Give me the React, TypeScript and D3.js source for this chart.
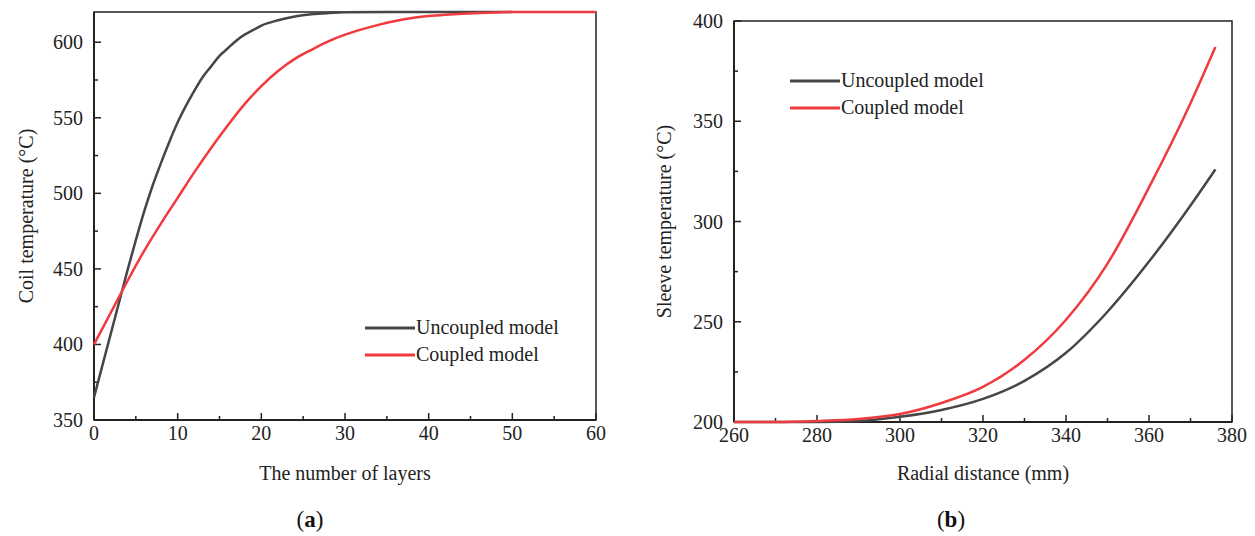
import React from "react";
import * as d3 from "d3";

// (a) coil temperature vs number of layers
const layerUncoupled = [0, 1, 2, 3, 4, 5, 6, 7, 8, 9, 10, 11, 12, 13, 14, 15, 16, 17, 18, 19, 20, 22, 24, 26, 28, 30, 35, 40, 45, 50];
const coilUncoupled = [365, 386, 407, 428, 449, 469, 488, 505, 520, 534, 547, 558, 568, 577, 584, 591, 596, 601, 605, 608, 611, 614.5, 617, 618.5, 619.3, 619.8, 620, 620, 620, 620];
const layerCoupled = [0, 2, 4, 6, 8, 10, 12, 14, 16, 18, 20, 22, 24, 26, 28, 30, 32, 34, 36, 38, 40, 42, 44, 46, 48, 50, 55, 60];
const coilCoupled = [400, 421, 442, 462, 480, 497, 514, 530, 545, 559, 571, 581, 589, 595, 600.5, 605, 608.5, 611.5, 614, 616, 617.3, 618.2, 618.9, 619.4, 619.7, 620, 620, 620];

// (b) sleeve temperature vs radial distance
const radialDist = [260, 270, 280, 290, 300, 310, 320, 330, 340, 350, 360, 370, 376];
const sleeveUncoupled = [200, 200, 200, 200.5, 202.6, 206, 211.5, 220.5, 234.5, 255, 280, 308, 326];
const sleeveCoupled = [200, 200, 200.5, 201.5, 204, 209.5, 217.5, 231, 251, 279, 317, 359, 387];

const layerTicks = [0, 10, 20, 30, 40, 50, 60];
const coilTicks = [350, 400, 450, 500, 550, 600];
const radialTicks = [260, 280, 300, 320, 340, 360, 380];
const sleeveTicks = [200, 250, 300, 350, 400];
const seriesNames = ["Uncoupled model", "Coupled model"];

const GRAY = "#464646";
const RED = "#f03a3e";
const INK = "#222";
const FONT = "'Liberation Serif', 'Times New Roman', serif";

function Panel(props) {
  const { left, top, right, bottom, xDomain, yDomain, xTicks, xMinor, yTicks, yMinor,
    lines, xTitle, yTitle, yTitleX, legendX, legendY, caption, captionX } = props;

  const x = d3.scaleLinear().domain(xDomain).range([left, right]);
  const y = d3.scaleLinear().domain(yDomain).range([bottom, top]);
  const line = d3
    .line()
    .x((d) => x(d[0]))
    .y((d) => y(d[1]))
    .curve(d3.curveMonotoneX);

  return (
    <g>
      {/* frame */}
      <rect x={left} y={top} width={right - left} height={bottom - top} fill="none" stroke={INK} strokeWidth={1.5} />
      <line x1={left} x2={left} y1={top} y2={bottom} stroke={INK} strokeWidth={2} />
      <line x1={left} x2={right} y1={bottom} y2={bottom} stroke={INK} strokeWidth={2} />

      {/* x ticks */}
      {xTicks.map((t) => (
        <g key={"xt" + t}>
          <line x1={x(t)} x2={x(t)} y1={bottom} y2={bottom - 7} stroke={INK} strokeWidth={1.5} />
          <text x={x(t)} y={bottom + 20} textAnchor="middle" fontSize={20} fill={INK}>{t}</text>
        </g>
      ))}
      {xMinor.map((t) => (
        <line key={"xm" + t} x1={x(t)} x2={x(t)} y1={bottom} y2={bottom - 4} stroke={INK} strokeWidth={1.5} />
      ))}

      {/* y ticks */}
      {yTicks.map((t) => (
        <g key={"yt" + t}>
          <line x1={left} x2={left + 7} y1={y(t)} y2={y(t)} stroke={INK} strokeWidth={1.5} />
          <text x={left - 11} y={y(t)} dy="0.35em" textAnchor="end" fontSize={20} fill={INK}>{t}</text>
        </g>
      ))}
      {yMinor.map((t) => (
        <line key={"ym" + t} x1={left} x2={left + 4} y1={y(t)} y2={y(t)} stroke={INK} strokeWidth={1.5} />
      ))}

      {/* curves */}
      {lines.map((s, i) => (
        <path key={"s" + i} d={line(s.xs.map((v, j) => [v, s.ys[j]]))} fill="none" stroke={s.color} strokeWidth={2.5} />
      ))}

      {/* legend */}
      {lines.map((s, i) => (
        <g key={"lg" + i}>
          <line x1={legendX} x2={legendX + 50} y1={legendY + i * 27} y2={legendY + i * 27} stroke={s.color} strokeWidth={3} />
          <text x={legendX + 51} y={legendY + i * 27} dy="0.3em" fontSize={20} fill={INK}>{s.name}</text>
        </g>
      ))}

      {/* titles */}
      <text x={(left + right) / 2} y={480} textAnchor="middle" fontSize={20} fill={INK}>{xTitle}</text>
      <text transform={`translate(${yTitleX},${(top + bottom) / 2}) rotate(-90)`} textAnchor="middle" fontSize={20} fill={INK}>{yTitle}</text>
      <text x={captionX} y={527} textAnchor="middle" fontSize={23} fill="#111">
        (<tspan fontWeight="bold">{caption}</tspan>)
      </text>
    </g>
  );
}

export default function App() {
  return (
    <svg width={1255} height={536} style={{ position: "absolute", left: 0, top: 0, background: "#fff" }} fontFamily={FONT}>
      <Panel
        left={94} top={12} right={596} bottom={420}
        xDomain={[0, 60]} yDomain={[350, 620]}
        xTicks={layerTicks} xMinor={[5, 15, 25, 35, 45, 55]}
        yTicks={coilTicks} yMinor={[375, 425, 475, 525, 575]}
        lines={[
          { name: seriesNames[0], xs: layerUncoupled, ys: coilUncoupled, color: GRAY },
          { name: seriesNames[1], xs: layerCoupled, ys: coilCoupled, color: RED },
        ]}
        xTitle="The number of layers" yTitle="Coil temperature (°C)" yTitleX={33}
        legendX={365} legendY={328}
        caption="a" captionX={310}
      />
      <Panel
        left={734} top={21} right={1232} bottom={422}
        xDomain={[260, 380]} yDomain={[200, 400]}
        xTicks={radialTicks} xMinor={[270, 290, 310, 330, 350, 370]}
        yTicks={sleeveTicks} yMinor={[225, 275, 325, 375]}
        lines={[
          { name: seriesNames[0], xs: radialDist, ys: sleeveUncoupled, color: GRAY },
          { name: seriesNames[1], xs: radialDist, ys: sleeveCoupled, color: RED },
        ]}
        xTitle="Radial distance (mm)" yTitle="Sleeve temperature (°C)" yTitleX={671}
        legendX={790} legendY={81}
        caption="b" captionX={951}
      />
    </svg>
  );
}
